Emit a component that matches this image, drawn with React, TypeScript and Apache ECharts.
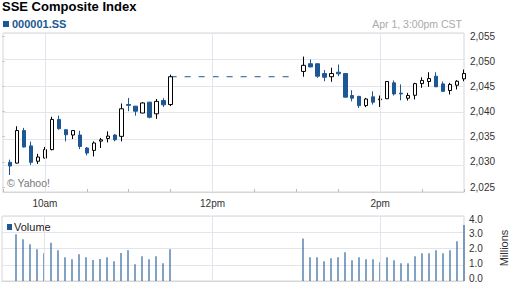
import React, { useEffect, useRef } from "react";
import * as echarts from "echarts";

// ---- data ----
const morningOpen = [2030.6, 2030.45, 2036.6, 2033.7, 2030.8, 2031.4, 2033.0, 2038.7, 2036.75, 2035.75, 2035.75, 2033.3, 2032.85, 2034.6, 2035.1, 2035.75, 2035.5, 2041.5, 2041.2, 2039.9, 2041.95, 2039.75, 2042.25, 2041.5];
const morningClose = [2029.9, 2036.6, 2033.5, 2030.6, 2031.6, 2033.0, 2038.7, 2036.95, 2035.8, 2036.6, 2033.6, 2032.35, 2034.25, 2034.85, 2035.55, 2034.85, 2040.7, 2041.35, 2040.25, 2041.8, 2039.1, 2042.1, 2041.45, 2046.75];
const morningLow = [2028.2, 2030.4, 2033.4, 2030.1, 2030.3, 2031.35, 2032.85, 2036.75, 2034.55, 2035.0, 2033.1, 2031.9, 2031.7, 2033.3, 2034.35, 2034.55, 2034.55, 2040.25, 2039.4, 2039.85, 2038.9, 2038.8, 2041.05, 2041.2];
const morningHigh = [2031.1, 2037.4, 2037.1, 2034.5, 2032.2, 2033.5, 2039.2, 2039.4, 2036.8, 2036.65, 2036.55, 2033.5, 2034.55, 2035.2, 2036.45, 2035.95, 2041.7, 2042.75, 2041.25, 2041.95, 2042.0, 2042.55, 2042.7, 2047.15];

const afternoonOpen = [2047.75, 2049.2, 2049.2, 2047.35, 2046.75, 2047.6, 2047.35, 2043.2, 2043.05, 2041.3, 2042.95, 2042.4, 2042.6, 2045.6, 2043.65, 2042.7, 2043.25, 2045.45, 2045.85, 2046.85, 2045.4, 2044.15, 2045.15, 2046.35];
const afternoonClose = [2048.9, 2048.6, 2046.85, 2046.65, 2047.35, 2047.3, 2042.9, 2042.7, 2041.3, 2042.55, 2041.95, 2042.55, 2045.85, 2043.5, 2043.5, 2043.2, 2045.45, 2046.05, 2046.4, 2044.85, 2044.0, 2045.3, 2045.9, 2047.35];
const afternoonLow = [2046.75, 2048.55, 2046.55, 2045.9, 2045.8, 2046.85, 2042.85, 2042.1, 2040.85, 2041.0, 2041.5, 2041.05, 2042.55, 2043.2, 2042.3, 2042.25, 2042.45, 2044.65, 2044.85, 2044.8, 2043.85, 2043.4, 2044.35, 2045.9];
const afternoonHigh = [2050.55, 2050.0, 2049.25, 2048.0, 2048.45, 2049.05, 2047.4, 2044.2, 2043.1, 2042.75, 2044.0, 2043.2, 2045.9, 2046.05, 2045.3, 2043.7, 2045.6, 2046.65, 2047.6, 2047.6, 2045.85, 2045.6, 2046.1, 2048.1];

// volume in millions (morning starts at 9:40, afternoon at 13:05)
const morningVolume = [2.88, 2.57, 2.26, 1.95, 1.71, 2.35, 1.89, 1.46, 1.34, 1.65, 1.46, 1.3, 1.36, 1.46, 1.21, 1.73, 1.89, 1.03, 1.52, 1.34, 1.52, 1.09, 1.95];
const afternoonVolume = [2.61, 1.46, 1.46, 1.21, 1.4, 1.46, 1.77, 1.28, 1.46, 1.34, 1.34, 1.15, 1.46, 1.28, 1.09, 1.09, 1.52, 1.71, 1.71, 1.89, 1.71, 1.89, 2.45, 3.44];

// x axis: minutes since 9:30
const timeLabels: Record<number, string> = { 30: "10am", 150: "12pm", 270: "2pm" };
const morningStart = 5; // 9:35
const afternoonStart = 215; // 13:05
const lunchStart = 120; // 11:30
const lunchEnd = 210; // 13:00
const step = 5;

const BLUE = "#1d5794";
const GRID = "#e4e4ee";
const BORDER = "#d6d6d6";
const FONT = '"Liberation Sans", Arial, sans-serif';

function buildCandles() {
  const out: number[][] = [];
  morningOpen.forEach((o, i) => out.push([morningStart + i * step, o, morningClose[i], morningLow[i], morningHigh[i]]));
  afternoonOpen.forEach((o, i) => out.push([afternoonStart + i * step, o, afternoonClose[i], afternoonLow[i], afternoonHigh[i]]));
  return out;
}
function buildVolume() {
  const out: number[][] = [];
  const mStart = lunchStart - (morningVolume.length - 1) * step;
  morningVolume.forEach((v, i) => out.push([mStart + i * step, v]));
  afternoonVolume.forEach((v, i) => out.push([afternoonStart + i * step, v]));
  return out;
}

const vLines = {
  silent: true,
  symbol: ["none", "none"],
  label: { show: false },
  lineStyle: { color: GRID, type: "solid", width: 1 },
  data: Object.keys(timeLabels).map((k) => ({ xAxis: Number(k) })),
};

export default function App() {
  const ref = useRef<HTMLDivElement>(null);
  useEffect(() => {
    if (!ref.current) return;
    const chart = echarts.init(ref.current, undefined, { renderer: "svg" });
    const lastClose = morningClose[morningClose.length - 1];
    const base = { left: 2, right: 48 };
    chart.setOption({
      animation: false,
      textStyle: { fontFamily: FONT },
      grid: [
        { ...base, top: 33, height: 159, show: true, borderColor: BORDER, borderWidth: 1 },
        { ...base, top: 216, height: 65, show: true, borderColor: BORDER, borderWidth: 1 },
        { ...base, top: 36, height: 151 },
        { ...base, top: 219, height: 59 },
      ],
      xAxis: [
        {
          gridIndex: 0, type: "value", min: 0, max: 330, interval: 30,
          axisLine: { show: true, lineStyle: { color: BORDER } },
          axisTick: { show: true, inside: true, length: 3, lineStyle: { color: "#bbb" } },
          splitLine: { show: false },
          axisLabel: {
            margin: 6, color: "#333", fontSize: 10, fontFamily: FONT,
            formatter: (v: number) => timeLabels[v] || "",
          },
        },
        {
          gridIndex: 1, type: "value", min: 0, max: 330, interval: 30,
          axisLine: { show: true, lineStyle: { color: BORDER } },
          axisTick: { show: false }, splitLine: { show: false }, axisLabel: { show: false },
        },
        { gridIndex: 2, type: "value", min: 0, max: 1, show: false },
        { gridIndex: 3, type: "value", min: 0, max: 1, show: false },
      ],
      yAxis: [
        {
          gridIndex: 0, type: "value", min: 2025, max: 2055, interval: 5, position: "right",
          axisLine: { show: false }, axisTick: { show: false }, axisLabel: { show: false },
          splitLine: { show: true, lineStyle: { color: GRID } },
        },
        {
          gridIndex: 1, type: "value", min: 0, max: 4, interval: 1, position: "right",
          axisLine: { show: false }, axisTick: { show: false }, axisLabel: { show: false },
          splitLine: { show: true, lineStyle: { color: GRID } },
        },
        {
          gridIndex: 2, type: "value", min: 2025, max: 2055, interval: 5, position: "right",
          axisLine: { show: false },
          axisTick: { show: true, length: 3, lineStyle: { color: "#ccc" } },
          splitLine: { show: false },
          axisLabel: {
            margin: 6, color: "#333", fontSize: 10, fontFamily: FONT,
            formatter: (v: number) => v.toLocaleString("en-US"),
          },
        },
        {
          gridIndex: 3, type: "value", min: 0, max: 4, interval: 1, position: "right",
          axisLine: { show: false }, axisTick: { show: false }, splitLine: { show: false },
          axisLabel: {
            margin: 5, color: "#333", fontSize: 10, fontFamily: FONT,
            formatter: (v: number) => v.toFixed(1),
          },
        },
      ],
      series: [
        {
          type: "line", xAxisIndex: 0, yAxisIndex: 0, z: 1,
          data: [[lunchStart, lastClose], [lunchEnd, lastClose]],
          symbol: "none",
          lineStyle: { color: BLUE, width: 1, type: [6, 8] },
          markLine: vLines,
        },
        {
          type: "candlestick", xAxisIndex: 0, yAxisIndex: 0, z: 3,
          data: buildCandles(),
          encode: { x: 0, y: [1, 2, 3, 4] },
          barWidth: 4,
          itemStyle: { color: "#fff", color0: BLUE, borderColor: "#000", borderColor0: BLUE, borderWidth: 1 },
        },
        {
          type: "bar", xAxisIndex: 1, yAxisIndex: 1,
          data: buildVolume(),
          barWidth: 1.1,
          itemStyle: { color: BLUE },
          markLine: vLines,
        },
      ],
      graphic: [
        { type: "text", left: 2, top: 0, style: { text: "SSE Composite Index", font: `bold 13px ${FONT}`, fill: "#000" } },
        { type: "rect", shape: { x: 3, y: 21, width: 6, height: 6 }, style: { fill: BLUE } },
        { type: "text", x: 12, y: 24, style: { text: "000001.SS", font: `bold 11px ${FONT}`, fill: BLUE, verticalAlign: "middle" } },
        { type: "text", x: 462, y: 24, style: { text: "Apr 1, 3:00pm CST", font: `10.5px ${FONT}`, fill: "#aaa", align: "right", verticalAlign: "middle" } },
        { type: "text", x: 7, y: 183, z: 10, style: { text: "© Yahoo!", font: `10.5px ${FONT}`, fill: "#777", verticalAlign: "middle" } },
        { type: "rect", shape: { x: 7, y: 224, width: 5, height: 6 }, style: { fill: BLUE } },
        { type: "text", x: 14, y: 227, style: { text: "Volume", font: `11px ${FONT}`, fill: "#222", verticalAlign: "middle" } },
        { type: "text", x: 504, y: 248, rotation: Math.PI / 2, style: { text: "Millions", font: `11px ${FONT}`, fill: "#333", align: "center", verticalAlign: "middle" } },
      ],
    });
    return () => chart.dispose();
  }, []);
  return <div ref={ref} style={{ position: "fixed", left: 0, top: 0, width: 512, height: 288, background: "#fff" }} />;
}
